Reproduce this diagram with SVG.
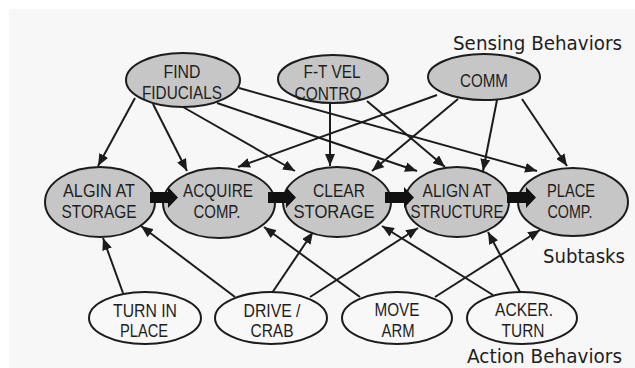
<svg xmlns="http://www.w3.org/2000/svg" width="635" height="368" viewBox="0 0 635 368">
  <style>
    .sense ellipse, .sub ellipse { fill: #c6c6c6; stroke: #1c1c1c; stroke-width: 2; }
    .act ellipse { fill: #f8f8f8; stroke: #1c1c1c; stroke-width: 2; }
    .lbl { font-family: "Liberation Sans", Arial, sans-serif; font-size: 18px; fill: #1e1e1e; text-anchor: middle; }
    .title { font-family: "DejaVu Sans", Verdana, sans-serif; font-size: 19px; fill: #1e1e1e; }
    .conn line { stroke: #1c1c1c; stroke-width: 2; marker-end: url(#arrow); }
    .flow path { fill: #111; }
  </style>
  <defs>
    <marker id="arrow" markerUnits="userSpaceOnUse" markerWidth="12" markerHeight="10" viewBox="0 0 12 10" refX="12" refY="5" orient="auto">
      <path d="M0,0 L12,5 L0,10 z" fill="#1c1c1c"/>
    </marker>
  </defs>

  <!-- page background -->
  <rect x="0" y="0" width="635" height="368" fill="#ffffff"/>
  <rect x="9" y="9" width="626" height="359" fill="#f7f7f7"/>

  <!-- connectors -->
  <g id="connectors" class="conn">
    <!-- sensing behaviors to subtasks -->
    <line x1="135" y1="98" x2="98" y2="166"/>
    <line x1="153" y1="104" x2="187" y2="171"/>
    <line x1="183" y1="107" x2="295" y2="171"/>
    <line x1="217" y1="103" x2="417" y2="171"/>
    <line x1="239" y1="88" x2="537" y2="171"/>
    <line x1="330" y1="103" x2="330" y2="166"/>
    <line x1="367" y1="101" x2="445" y2="167"/>
    <line x1="437" y1="95" x2="238" y2="167"/>
    <line x1="458" y1="99" x2="372" y2="171"/>
    <line x1="497" y1="100" x2="483" y2="171"/>
    <line x1="522" y1="99" x2="567" y2="166"/>
    <!-- action behaviors to subtasks -->
    <line x1="123" y1="293" x2="103" y2="238"/>
    <line x1="235" y1="297" x2="141" y2="226"/>
    <line x1="272" y1="293" x2="313" y2="232"/>
    <line x1="310" y1="297" x2="418" y2="228"/>
    <line x1="360" y1="297" x2="264" y2="227"/>
    <line x1="435" y1="297" x2="540" y2="230"/>
    <line x1="493" y1="295" x2="382" y2="226"/>
    <line x1="520" y1="292" x2="488" y2="232"/>
  </g>

  <!-- sensing behaviors -->
  <g id="find-fiducials" class="sense">
    <ellipse cx="183" cy="80" rx="57" ry="27"/>
    <text class="lbl" x="182" y="78" textLength="37" lengthAdjust="spacingAndGlyphs">FIND</text>
    <text class="lbl" x="182" y="99" textLength="80" lengthAdjust="spacingAndGlyphs">FIDUCIALS</text>
  </g>
  <g id="ft-vel-control" class="sense">
    <ellipse cx="333" cy="79" rx="55" ry="24"/>
    <text class="lbl" x="332" y="78" textLength="57" lengthAdjust="spacingAndGlyphs">F-T VEL</text>
    <text class="lbl" x="328" y="100" textLength="67" lengthAdjust="spacingAndGlyphs">CONTRO</text>
  </g>
  <g id="comm" class="sense">
    <ellipse cx="484" cy="77" rx="56" ry="23"/>
    <text class="lbl" x="484" y="87" textLength="48" lengthAdjust="spacingAndGlyphs">COMM</text>
  </g>

  <!-- subtasks -->
  <g id="align-storage" class="sub">
    <ellipse cx="100" cy="202" rx="55" ry="35"/>
    <text class="lbl" x="99" y="197" textLength="72" lengthAdjust="spacingAndGlyphs">ALGIN AT</text>
    <text class="lbl" x="99" y="218" textLength="75" lengthAdjust="spacingAndGlyphs">STORAGE</text>
  </g>
  <g id="acquire-comp" class="sub">
    <ellipse cx="219" cy="203" rx="56" ry="35"/>
    <text class="lbl" x="218" y="197" textLength="70" lengthAdjust="spacingAndGlyphs">ACQUIRE</text>
    <text class="lbl" x="217" y="218" textLength="47" lengthAdjust="spacingAndGlyphs">COMP.</text>
  </g>
  <g id="clear-storage" class="sub">
    <ellipse cx="337" cy="202" rx="54" ry="35"/>
    <text class="lbl" x="339" y="197" textLength="52" lengthAdjust="spacingAndGlyphs">CLEAR</text>
    <text class="lbl" x="334" y="218" textLength="81" lengthAdjust="spacingAndGlyphs">STORAGE</text>
  </g>
  <g id="align-structure" class="sub">
    <ellipse cx="457" cy="202" rx="52" ry="35"/>
    <text class="lbl" x="457" y="197" textLength="69" lengthAdjust="spacingAndGlyphs">ALIGN AT</text>
    <text class="lbl" x="457" y="218" textLength="93" lengthAdjust="spacingAndGlyphs">STRUCTURE</text>
  </g>
  <g id="place-comp" class="sub">
    <ellipse cx="573" cy="202" rx="55" ry="34"/>
    <text class="lbl" x="571" y="197" textLength="48" lengthAdjust="spacingAndGlyphs">PLACE</text>
    <text class="lbl" x="570" y="218" textLength="45" lengthAdjust="spacingAndGlyphs">COMP.</text>
  </g>

  <!-- subtask sequence arrows, drawn over the ellipse outlines -->
  <g id="sequence" class="flow">
    <path d="M150,192 H168 V187 L178,197.5 L168,208 V203 H150 z"/>
    <path d="M268,192 H286 V187 L296,197.5 L286,208 V203 H268 z"/>
    <path d="M385,192 H404 V187 L414,197.5 L404,208 V203 H385 z"/>
    <path d="M507,192 H526 V187 L536,197.5 L526,208 V203 H507 z"/>
  </g>

  <!-- action behaviors -->
  <g id="turn-in-place" class="act">
    <ellipse cx="145" cy="318" rx="56" ry="26"/>
    <text class="lbl" x="145" y="317" textLength="64" lengthAdjust="spacingAndGlyphs">TURN IN</text>
    <text class="lbl" x="144" y="337" textLength="48" lengthAdjust="spacingAndGlyphs">PLACE</text>
  </g>
  <g id="drive-crab" class="act">
    <ellipse cx="271" cy="318" rx="56" ry="26"/>
    <text class="lbl" x="272" y="317" textLength="57" lengthAdjust="spacingAndGlyphs">DRIVE /</text>
    <text class="lbl" x="272" y="337" textLength="43" lengthAdjust="spacingAndGlyphs">CRAB</text>
  </g>
  <g id="move-arm" class="act">
    <ellipse cx="397" cy="318" rx="55" ry="26"/>
    <text class="lbl" x="397" y="316" textLength="45" lengthAdjust="spacingAndGlyphs">MOVE</text>
    <text class="lbl" x="398" y="337" textLength="33" lengthAdjust="spacingAndGlyphs">ARM</text>
  </g>
  <g id="acker-turn" class="act">
    <ellipse cx="522" cy="318" rx="55" ry="26"/>
    <text class="lbl" x="524" y="316" textLength="58" lengthAdjust="spacingAndGlyphs">ACKER.</text>
    <text class="lbl" x="523" y="337" textLength="43" lengthAdjust="spacingAndGlyphs">TURN</text>
  </g>

  <!-- tier captions -->
  <text class="title" x="453" y="50" textLength="169" lengthAdjust="spacingAndGlyphs">Sensing Behaviors</text>
  <text class="title" x="543" y="263" textLength="82" lengthAdjust="spacingAndGlyphs">Subtasks</text>
  <text class="title" x="467" y="363" textLength="155" lengthAdjust="spacingAndGlyphs">Action Behaviors</text>
</svg>
